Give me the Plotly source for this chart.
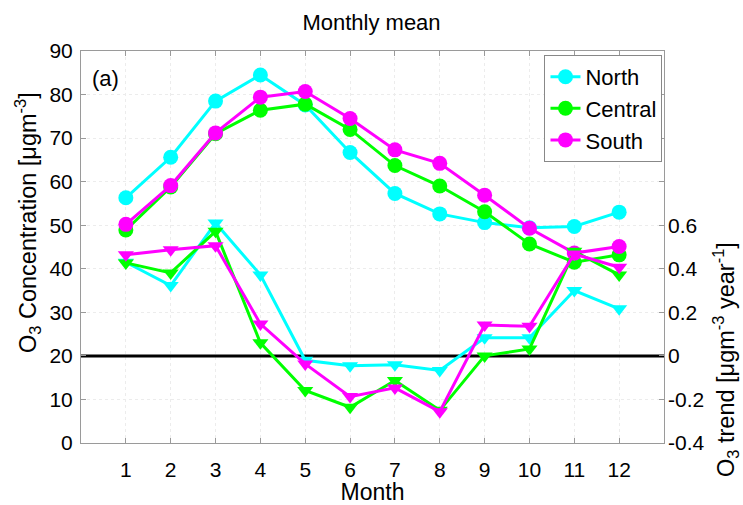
import plotly.graph_objects as go

months = list(range(1, 13))
regions = ["North", "Central", "South"]
colors = {"North": "#00FFFF", "Central": "#00FF00", "South": "#FF00FF"}

# Monthly mean O3 concentration [ug m-3]
conc = {
    "North":   [56.3, 65.6, 78.5, 84.5, 77.6, 66.7, 57.3, 52.6, 50.6, 49.4, 49.7, 53.0],
    "Central": [48.9, 58.8, 71.0, 76.4, 77.8, 72.0, 63.7, 59.0, 53.1, 45.7, 41.5, 43.2],
    "South":   [50.2, 59.1, 71.2, 79.4, 80.7, 74.5, 67.3, 64.2, 56.9, 49.3, 43.6, 45.1],
}

# Monthly O3 trend [ug m-3 year-1]
trend = {
    "North":   [0.43, 0.323, 0.61, 0.372, -0.02, -0.045, -0.041, -0.067, 0.083, 0.083, 0.30, 0.216],
    "Central": [0.427, 0.381, 0.572, 0.06, -0.159, -0.236, -0.113, -0.25, 0.0, 0.032, 0.48, 0.372],
    "South":   [0.464, 0.487, 0.506, 0.147, -0.037, -0.187, -0.147, -0.256, 0.142, 0.136, 0.468, 0.407],
}

conc_ticks = list(range(0, 91, 10))
trend_ticks = [-0.4, -0.2, 0, 0.2, 0.4, 0.6]
x_range = [0, 13]

FONT = "Liberation Sans, Arial, sans-serif"
AXIS_COLOR = "#9a9a9a"
GRID_COLOR = "#ececec"

fig = go.Figure()

for r in regions:
    fig.add_trace(go.Scatter(
        x=months, y=conc[r], name=r, mode="lines+markers",
        line=dict(color=colors[r], width=3),
        marker=dict(symbol="circle", size=15, color=colors[r], line=dict(width=0)),
        yaxis="y",
    ))

# zero-trend reference line across the full month axis
fig.add_trace(go.Scatter(
    x=x_range, y=[0, 0], mode="lines", line=dict(color="black", width=3),
    yaxis="y2", showlegend=False, hoverinfo="skip",
))

for r in regions:
    fig.add_trace(go.Scatter(
        x=months, y=trend[r], name=r + " trend", mode="lines+markers",
        line=dict(color=colors[r], width=3),
        marker=dict(symbol="triangle-down", size=14, color=colors[r], line=dict(width=0)),
        yaxis="y2", showlegend=False,
    ))

fig.update_layout(
    width=743, height=505,
    margin=dict(l=81, r=79, t=51, b=62, autoexpand=False),
    paper_bgcolor="white", plot_bgcolor="white",
    font=dict(family=FONT, color="black", size=21),
    title=dict(text="Monthly mean", x=0.5, xanchor="center", y=1 - 22 / 505,
               yanchor="middle", font=dict(size=22, family=FONT)),
    xaxis=dict(
        range=x_range, tickvals=months, ticks="inside", ticklen=5,
        tickcolor=AXIS_COLOR, showline=True, linecolor=AXIS_COLOR, linewidth=1,
        mirror="ticks", showgrid=True, gridcolor=GRID_COLOR, griddash="dot",
        zeroline=False, ticklabelstandoff=8, automargin=False,
        title=dict(text="Month", standoff=0, font=dict(size=23)),
        tickfont=dict(size=21),
    ),
    yaxis=dict(
        range=[0, 90], tickvals=conc_ticks, ticks="inside", ticklen=5,
        tickcolor=AXIS_COLOR, showline=True, linecolor=AXIS_COLOR, linewidth=1,
        mirror="ticks", showgrid=True, gridcolor=GRID_COLOR, griddash="dot",
        zeroline=False, tickfont=dict(size=21), ticklabelstandoff=3,
        automargin=False,
    ),
    yaxis2=dict(
        overlaying="y", side="right", range=[-0.4, 1.4], tickvals=trend_ticks,
        ticktext=["-0.4", "-0.2", "0", "0.2", "0.4", "0.6"],
        ticks="inside", ticklen=5, tickcolor=AXIS_COLOR, showline=False,
        showgrid=False, zeroline=False, tickfont=dict(size=21), ticklabelstandoff=3,
        automargin=False,
    ),
    legend=dict(
        x=0.795, y=0.99, xanchor="left", yanchor="top",
        bgcolor="white", bordercolor="#888888", borderwidth=1,
        font=dict(size=22, family=FONT), itemwidth=30, tracegroupgap=0,
    ),
    showlegend=True,
)

fig.add_annotation(text="(a)", xref="paper", yref="paper", x=(90 - 81) / 583,
                   y=(443 - 78) / 392, xanchor="left", yanchor="middle",
                   showarrow=False, font=dict(size=22, family=FONT))

fig.add_annotation(text="O<sub>3</sub> Concentration [μgm<sup>-3</sup>]",
                   xref="paper", yref="paper", x=(27 - 81) / 583, y=(443 - 223) / 392,
                   xanchor="center", yanchor="middle", textangle=-90,
                   showarrow=False, font=dict(size=23.5, family=FONT))

fig.add_annotation(text="O<sub>3</sub> trend [μgm<sup>-3</sup> year<sup>-1</sup>]",
                   xref="paper", yref="paper", x=(725 - 81) / 583, y=(443 - 360) / 392,
                   xanchor="center", yanchor="middle", textangle=-90,
                   showarrow=False, font=dict(size=23.5, family=FONT))

fig.write_html("out.html")
